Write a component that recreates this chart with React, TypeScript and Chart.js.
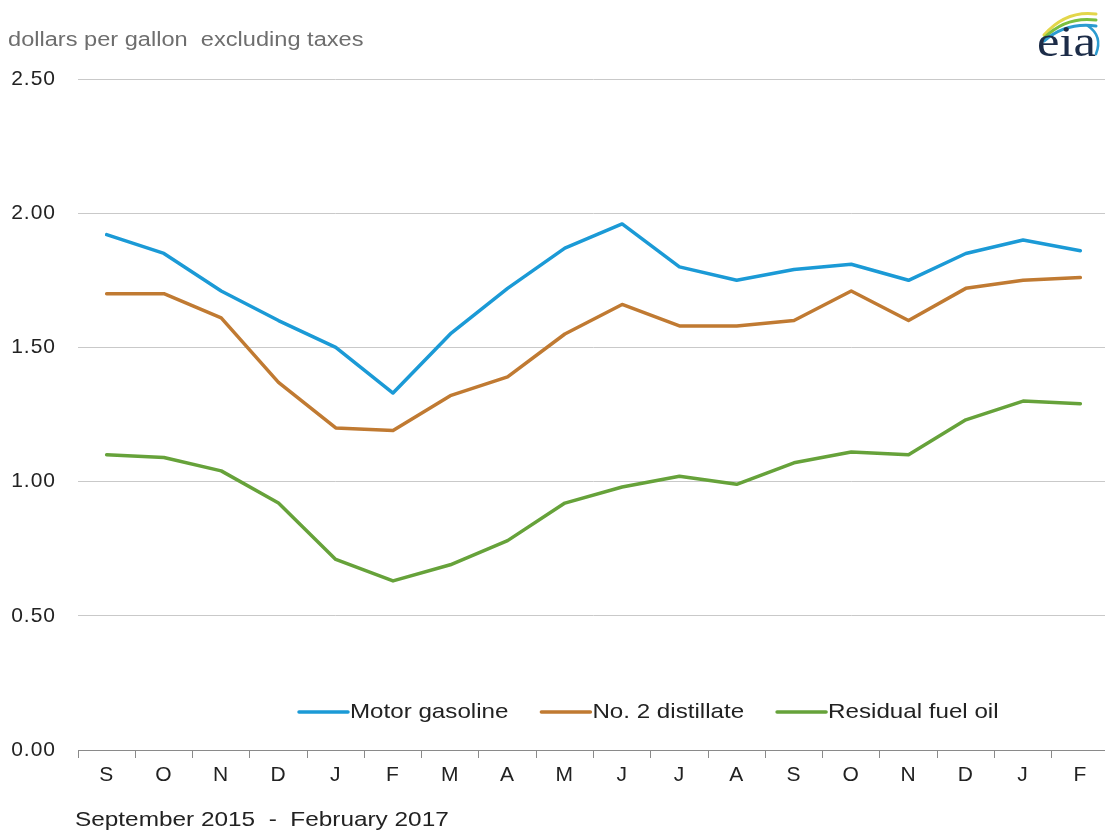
import React, { useEffect, useRef } from "react";
import { Chart, registerables } from "chart.js";

Chart.register(...registerables);

const months = ["S", "O", "N", "D", "J", "F", "M", "A", "M", "J", "J", "A", "S", "O", "N", "D", "J", "F"];
const seriesNames = ["Motor gasoline", "No. 2 distillate", "Residual fuel oil"];
const gasoline = [1.92, 1.85, 1.71, 1.6, 1.5, 1.33, 1.55, 1.72, 1.87, 1.96, 1.8, 1.75, 1.79, 1.81, 1.75, 1.85, 1.9, 1.86];
const distillate = [1.7, 1.7, 1.61, 1.37, 1.2, 1.19, 1.32, 1.39, 1.55, 1.66, 1.58, 1.58, 1.6, 1.71, 1.6, 1.72, 1.75, 1.76];
const residual = [1.1, 1.09, 1.04, 0.92, 0.71, 0.63, 0.69, 0.78, 0.92, 0.98, 1.02, 0.99, 1.07, 1.11, 1.1, 1.23, 1.3, 1.29];
const seriesColors = ["#1b9ad6", "#c07a32", "#66a23a"];
const yTickValues = [0, 0.5, 1.0, 1.5, 2.0, 2.5];
const unitsLabel = "dollars per gallon  excluding taxes";
const periodLabel = "September 2015  -  February 2017";

const FONT = '"Liberation Sans", Arial, sans-serif';

function stretchedText(ctx: any, text: string, x: number, y: number, sx: number) {
  ctx.save();
  ctx.translate(x, y);
  ctx.scale(sx, 1);
  ctx.fillText(text, 0, 0);
  ctx.restore();
  return ctx.measureText(text).width * sx;
}

const decorPlugin = {
  id: "decor",
  beforeDraw(chart: any) {
    (chart.ctx as any).letterSpacing = "1px";
  },
  afterDraw(chart: any) {
    const ctx = chart.ctx as any;
    ctx.save();
    ctx.letterSpacing = "0px";
    ctx.textBaseline = "middle";
    ctx.textAlign = "left";

    // units label
    ctx.font = `20px ${FONT}`;
    ctx.fillStyle = "#6e6e6e";
    stretchedText(ctx, unitsLabel, 8, 40, 1.18);

    // period label
    ctx.font = `21px ${FONT}`;
    ctx.fillStyle = "#222";
    stretchedText(ctx, periodLabel, 75, 820, 1.16);

    // legend
    let x = 299;
    const ly = 712;
    ctx.font = `21px ${FONT}`;
    chart.data.datasets.forEach((ds: any) => {
      ctx.strokeStyle = ds.borderColor;
      ctx.lineWidth = 3.5;
      ctx.lineCap = "round";
      ctx.beginPath();
      ctx.moveTo(x, ly);
      ctx.lineTo(x + 49, ly);
      ctx.stroke();
      ctx.fillStyle = "#222";
      const w = stretchedText(ctx, ds.label, x + 51, ly, 1.15);
      x += 51 + w + 33;
    });

    // eia logo
    ctx.lineCap = "round";
    const arcs = [
      { c: "#e3d64a", w: 3, y0: 35, y1: 12 },
      { c: "#7bbf3e", w: 3, y0: 38, y1: 18 },
      { c: "#2b9bd0", w: 3, y0: 41, y1: 24 },
    ];
    arcs.forEach((a) => {
      ctx.strokeStyle = a.c;
      ctx.lineWidth = a.w;
      ctx.beginPath();
      ctx.moveTo(1044, a.y0);
      ctx.quadraticCurveTo(1066, a.y1 - 2, 1096, a.y1 + 2);
      ctx.stroke();
    });
    ctx.strokeStyle = "#2b9bd0";
    ctx.lineWidth = 2.5;
    ctx.beginPath();
    ctx.moveTo(1088, 26);
    ctx.quadraticCurveTo(1103, 36, 1096, 54);
    ctx.stroke();
    ctx.translate(1037, 56);
    ctx.scale(1.15, 1);
    ctx.font = `44px "Liberation Serif", "DejaVu Serif", serif`;
    ctx.fillStyle = "#1c2c48";
    ctx.textBaseline = "alphabetic";
    ctx.fillText("eia", 0, 0);
    ctx.restore();
  },
};

export default function App() {
  const ref = useRef<HTMLCanvasElement | null>(null);
  useEffect(() => {
    if (!ref.current) return;
    const chart = new Chart(ref.current, {
      type: "line",
      data: {
        labels: months,
        datasets: [gasoline, distillate, residual].map((d, i) => ({
          label: seriesNames[i],
          data: d,
          borderColor: seriesColors[i],
          backgroundColor: seriesColors[i],
          borderWidth: 3.5,
          pointRadius: 0,
          tension: 0,
          borderJoinStyle: "round" as const,
          borderCapStyle: "round" as const,
        })),
      },
      options: {
        animation: false,
        responsive: true,
        maintainAspectRatio: false,
        layout: { padding: { top: 79, right: 3, left: 0, bottom: 0 } },
        plugins: { legend: { display: false }, tooltip: { enabled: false } },
        scales: {
          x: {
            offset: true,
            grid: {
              offset: true,
              drawOnChartArea: false,
              drawTicks: true,
              tickLength: 8,
              color: "#8a8a8a",
            },
            border: { display: true, color: "#8a8a8a", width: 1 },
            ticks: {
              font: { family: FONT, size: 21 },
              color: "#222",
              padding: 5,
              maxRotation: 0,
              autoSkip: false,
            },
            afterFit(scale: any) {
              scale.height = 88;
            },
          },
          y: {
            min: 0,
            max: 2.5,
            afterBuildTicks(scale: any) {
              scale.ticks = yTickValues.map((v) => ({ value: v }));
            },
            grid: { color: "#c9c9c9", drawTicks: false, lineWidth: 1 },
            border: { display: false },
            ticks: {
              font: { family: FONT, size: 21 },
              color: "#222",
              padding: 22,
              callback: (v: any) => Number(v).toFixed(2),
            },
            afterFit(scale: any) {
              scale.width = 78;
            },
          },
        },
      },
      plugins: [decorPlugin],
    });
    return () => chart.destroy();
  }, []);
  return (
    <div style={{ position: "fixed", left: 0, top: 0, width: 1105, height: 838, overflow: "hidden", background: "#fff" }}>
      <div style={{ position: "relative", width: 1112, height: 838 }}>
        <canvas ref={ref} />
      </div>
    </div>
  );
}
